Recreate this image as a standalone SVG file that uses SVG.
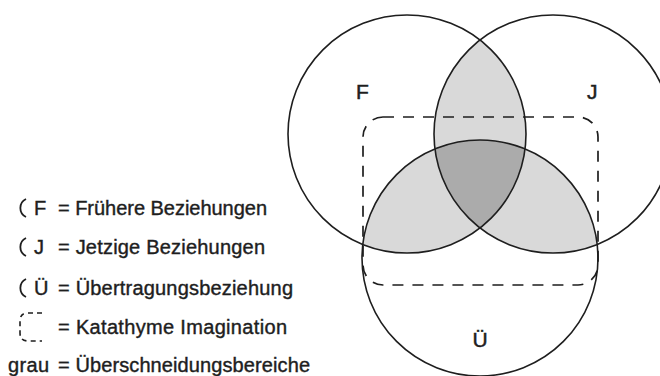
<svg xmlns="http://www.w3.org/2000/svg" width="660" height="376" viewBox="0 0 660 376">
<style>
.ring{fill:none;stroke:#1e1e1e;stroke-width:1.6}
.dash{fill:none;stroke:#1e1e1e;stroke-width:1.7;stroke-dasharray:11 9}
.lt{fill:#d9d9d9}
.dk{fill:#ababab}
.lbl{font-family:"Liberation Sans",Arial,sans-serif;font-size:21px;fill:#1e1e1e;stroke:#1e1e1e;stroke-width:0.5}
.leg{font-family:"Liberation Sans",Arial,sans-serif;font-size:20px;fill:#1e1e1e;stroke:#1e1e1e;stroke-width:0.4}
.arc{fill:none;stroke:#1e1e1e;stroke-width:1.8}
</style>
<defs>
<clipPath id="clipF"><circle cx="407" cy="134" r="119"/></clipPath>
<clipPath id="clipJ"><circle cx="553" cy="134" r="119"/></clipPath>
<clipPath id="clipU"><circle cx="480" cy="258" r="118"/></clipPath>
</defs>
<g id="overlaps">
<circle class="lt" cx="553" cy="134" r="119" clip-path="url(#clipF)"/>
<circle class="lt" cx="480" cy="258" r="118" clip-path="url(#clipF)"/>
<circle class="lt" cx="480" cy="258" r="118" clip-path="url(#clipJ)"/>
<g clip-path="url(#clipF)"><circle class="dk" cx="480" cy="258" r="118" clip-path="url(#clipJ)"/></g>
</g>
<g id="circle-F"><circle class="ring" cx="407" cy="134" r="119"/><text class="lbl" x="356" y="99">F</text></g>
<g id="circle-J"><circle class="ring" cx="553" cy="134" r="119"/><text class="lbl" x="587" y="99">J</text></g>
<g id="circle-U"><circle class="ring" cx="480" cy="258" r="118"/><text class="lbl" x="480" y="347" text-anchor="middle">Ü</text></g>
<g id="katathyme"><rect class="dash" x="363" y="117" width="235" height="168" rx="20" ry="20"/></g>
<g id="legend">
<g id="leg-F"><path class="arc" d="M26,199 A10,10 0 0,0 26,217"/><text class="leg" x="34" y="215">F</text><text class="leg" x="58" y="215" textLength="209">= Frühere Beziehungen</text></g>
<g id="leg-J"><path class="arc" d="M26,238 A10,10 0 0,0 26,256"/><text class="leg" x="34" y="254">J</text><text class="leg" x="58" y="254" textLength="207">= Jetzige Beziehungen</text></g>
<g id="leg-U"><path class="arc" d="M26,279 A10,10 0 0,0 26,297"/><text class="leg" x="34" y="295">Ü</text><text class="leg" x="58" y="295" textLength="235">= Übertragungsbeziehung</text></g>
<g id="leg-K"><path d="M42,313 H28 Q20,313 20,321 V333 Q20,341 28,341 H42" fill="none" stroke="#1e1e1e" stroke-width="1.6" stroke-dasharray="5 4"/><text class="leg" x="58" y="334" textLength="229">= Katathyme Imagination</text></g>
<g id="leg-grau"><text class="leg" x="8" y="372" textLength="41">grau</text><text class="leg" x="58" y="372" textLength="252">= Überschneidungsbereiche</text></g>
</g>
</svg>
